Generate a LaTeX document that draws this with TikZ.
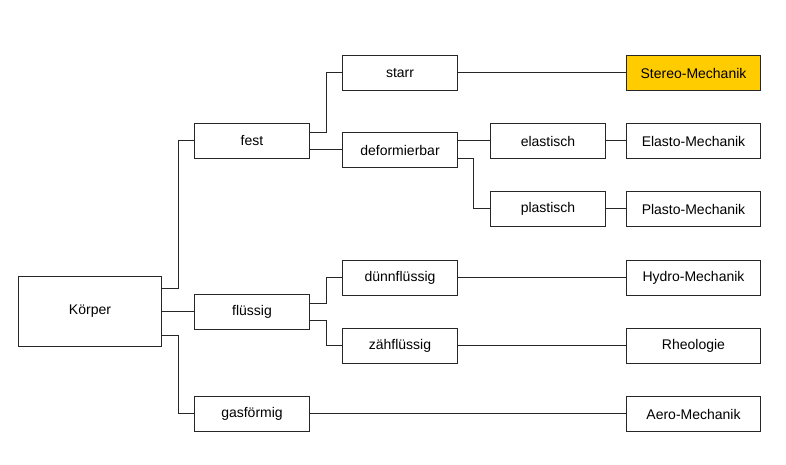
\documentclass[tikz,border=0pt]{standalone}
\usepackage{fontspec}
\setmainfont{Liberation Sans}
\definecolor{gold}{HTML}{FFCC00}
\definecolor{edge}{HTML}{262626}
\begin{document}
\begin{tikzpicture}[x=1pt,y=-1pt,
  box/.style={draw=edge,line width=1pt,fill=white,minimum height=35pt,inner sep=0pt,outer sep=0pt,font=\fontsize{14}{16}\selectfont},
  sbox/.style={box,minimum width=115pt},
  rbox/.style={box,minimum width=134pt},
  link/.style={draw=edge,line width=1pt}]
\useasboundingbox (0,0) rectangle (786,465);
\node[box,minimum width=143pt,minimum height=70pt] (k) at (90,311.5) {Körper};
\node[sbox] (fest) at (252,141) {fest};
\node[sbox] (fl) at (252,312) {flüssig};
\node[sbox] (gas) at (252,414) {gasförmig};
\node[sbox] (starr) at (400,73) {starr};
\node[sbox] (def) at (400,150) {deformierbar};
\node[sbox] (duenn) at (400,278) {dünnflüssig};
\node[sbox] (zaeh) at (400,346) {zähflüssig};
\node[sbox] (ela) at (548,141) {elastisch};
\node[sbox] (pla) at (548,209) {plastisch};
\node[rbox,fill=gold] (stereo) at (693.5,73) {Stereo-Mechanik};
\node[rbox] (elasto) at (693.5,141) {Elasto-Mechanik};
\node[rbox] (plasto) at (693.5,209) {Plasto-Mechanik};
\node[rbox] (hydro) at (693.5,278) {Hydro-Mechanik};
\node[rbox] (rheo) at (693.5,346) {Rheologie};
\node[rbox] (aero) at (693.5,414) {Aero-Mechanik};
\draw[link] ([yshift=23pt]k.east) -- ++(17,0) |- ([yshift=0.5pt]fest.west);
\draw[link] (k.east) -- (k.east -| fl.west);
\draw[link] ([yshift=-24pt]k.east) -- ++(17,0) |- ([yshift=0.5pt]gas.west);
\draw[link] ([yshift=8.5pt]fest.east) -- ++(17,0) |- ([yshift=0.5pt]starr.west);
\draw[link] ([yshift=-8.5pt]fest.east) -- ([yshift=-8.5pt]fest.east -| def.west);
\draw[link] ([yshift=0.5pt]ela.west -| def.east) -- ([yshift=0.5pt]ela.west);
\draw[link] ([yshift=-8.5pt]def.east) -- ++(16,0) |- ([yshift=0.5pt]pla.west);
\draw[link] ([yshift=8.5pt]fl.east) -- ++(17,0) |- ([yshift=0.5pt]duenn.west);
\draw[link] ([yshift=-8.5pt]fl.east) -- ++(17,0) |- ([yshift=0.5pt]zaeh.west);
\draw[link] ([yshift=0.5pt]starr.east) -- ([yshift=0.5pt]stereo.west);
\draw[link] ([yshift=0.5pt]ela.east) -- ([yshift=0.5pt]elasto.west);
\draw[link] ([yshift=0.5pt]pla.east) -- ([yshift=0.5pt]plasto.west);
\draw[link] ([yshift=0.5pt]duenn.east) -- ([yshift=0.5pt]hydro.west);
\draw[link] ([yshift=0.5pt]zaeh.east) -- ([yshift=0.5pt]rheo.west);
\draw[link] ([yshift=0.5pt]gas.east) -- ([yshift=0.5pt]aero.west);
\end{tikzpicture}
\end{document}
